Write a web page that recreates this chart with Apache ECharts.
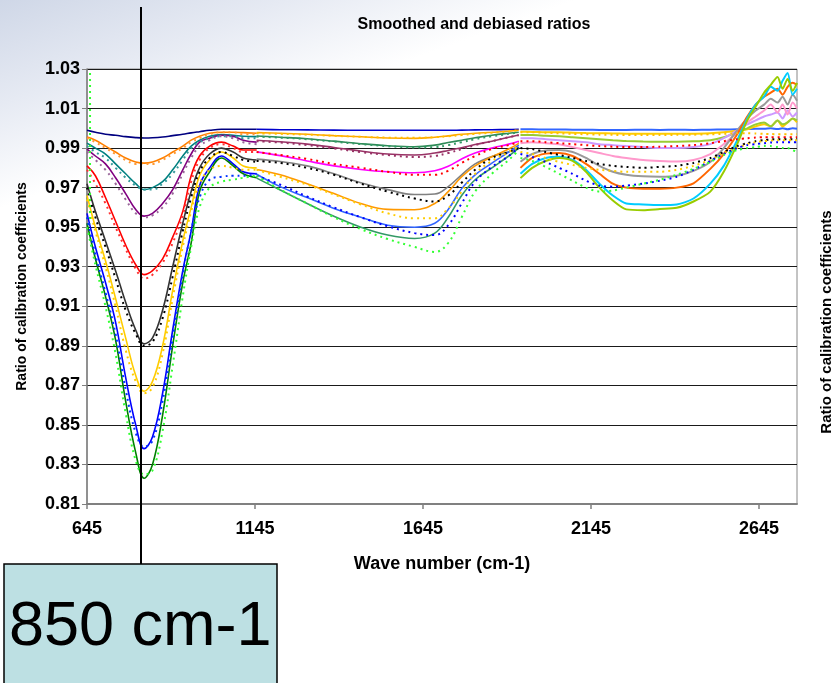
<!DOCTYPE html>
<html>
<head>
<meta charset="utf-8">
<script src="https://cdn.jsdelivr.net/npm/echarts@6/dist/echarts.min.js"></script>
<style>
    html, body { margin: 0; padding: 0; background: #fff; }
    #chart { width: 833px; height: 683px; }
</style>
</head>
<body>
<div id="chart"></div>
<script>
    // wave numbers, segment 1 (645-1150)
    const xsA1 = [645, 670, 700, 730, 760, 790, 815, 840, 870, 900, 930, 955, 980, 1010, 1045, 1080, 1110, 1150];
    // segment 2 (1150-1930)
    const xsA2 = [1150, 1220, 1300, 1380, 1460, 1540, 1620, 1680, 1720, 1760, 1800, 1850, 1900, 1930];
    // segment 3 (1935-2758)
    const xsB = [1935, 1970, 2010, 2050, 2090, 2130, 2170, 2210, 2250, 2300, 2350, 2400, 2450, 2500, 2540,
        2580, 2610, 2635, 2660, 2680, 2700, 2715, 2730, 2745, 2758];

    const yTicks = [0.81, 0.83, 0.85, 0.87, 0.89, 0.91, 0.93, 0.95, 0.97, 0.99, 1.01, 1.03];
    const xTicks = [645, 1145, 1645, 2145, 2645];

    // segment 1, smoothed
    const navyA1 = [.999, .998, .997, .9965, .9958, .9953, .9951, .9952, .9956, .9963, .997, .9977, .9983, .999, .9995, .9995, .9995, .9995];
    const orangeA1 = [.9956, .994, .991, .988, .985, .983, .9824, .983, .985, .988, .991, .994, .996, .9975, .998, .998, .9978, .9975];
    const tealA1 = [.9925, .990, .987, .982, .977, .972, .969, .970, .973, .979, .986, .991, .994, .996, .9968, .9965, .996, .9958];
    const purpleA1 = [.9895, .986, .982, .975, .967, .959, .9556, .957, .962, .969, .979, .987, .993, .995, .9965, .996, .994, .993];
    const redA1 = [.981, .976, .965, .953, .941, .931, .926, .928, .934, .945, .958, .976, .986, .991, .993, .991, .989, .989];
    const blackA1 = [.972, .958, .943, .928, .912, .898, .891, .894, .908, .930, .952, .968, .980, .987, .990, .988, .985, .984];
    const yellowA1 = [.966, .950, .933, .914, .894, .875, .867, .872, .890, .918, .943, .960, .976, .984, .988, .985, .981, .980];
    const blueA1 = [.957, .940, .922, .902, .874, .850, .838, .844, .866, .898, .928, .948, .971, .980, .986, .982, .978, .977];
    const greenA1 = [.952, .934, .915, .893, .862, .836, .823, .830, .855, .890, .922, .942, .968, .978, .985, .981, .977, .975];

    // segment 1, debiased (dotted)
    const orangeA1d = [.995, .993, .990, .987, .984, .982, .982, .982, .984, .987, .990, .993, .995, .997, .998, .998, .997, .997];
    const tealA1d = [.991, .988, .985, .980, .975, .971, .969, .969, .972, .977, .984, .990, .993, .995, .996, .996, .995, .995];
    const purpleA1d = [.988, .984, .979, .972, .964, .957, .955, .956, .960, .967, .977, .985, .991, .994, .996, .995, .993, .992];
    const redA1d = [.979, .972, .962, .950, .939, .929, .924, .926, .932, .942, .956, .973, .984, .990, .992, .990, .988, .988];
    const blackA1d = [.970, .955, .940, .924, .908, .896, .890, .892, .904, .925, .948, .965, .978, .985, .988, .986, .984, .983];
    const yellowA1d = [.964, .948, .930, .910, .888, .872, .866, .869, .886, .914, .940, .958, .972, .979, .981, .980, .979, .979];
    const blueA1d = [.955, .936, .917, .896, .868, .846, .839, .842, .862, .894, .926, .948, .965, .974, .9755, .976, .976, .977];
    const greenA1d = [.950, .931, .910, .886, .856, .832, .825, .827, .847, .880, .915, .940, .960, .970, .973, .974, .975, .976];
    const spikeX = [654, 654];
    const spikeY = [1.028, .952];

    // segment 2, smoothed
    const navyA2 = [.9995, .9993, .9992, .9991, .999, .999, .999, .999, .999, .9991, .9992, .9993, .9994, .9995];
    const goldA2 = [.9978, .9975, .997, .9963, .9957, .9951, .9949, .9955, .9962, .997, .9975, .998, .9985, .999];
    const seaA2 = [.9961, .9955, .9947, .9935, .9922, .9912, .9907, .9915, .9928, .994, .9952, .9965, .9975, .998];
    const maroonA2 = [.994, .9932, .992, .9903, .9885, .987, .9865, .9875, .9888, .9902, .9918, .9935, .9955, .9966];
    const magentaA2 = [.9881, .9862, .9835, .981, .9792, .978, .9775, .9785, .9808, .9845, .9875, .990, .992, .9935];
    const greyA2 = [.9844, .9832, .981, .977, .9725, .969, .9665, .9668, .9705, .9765, .982, .9858, .9882, .990];
    const orangeA2 = [.9792, .9765, .972, .967, .962, .959, .9588, .962, .968, .9755, .981, .9856, .9895, .9924];
    const royalA2 = [.9768, .9705, .965, .9595, .955, .951, .950, .952, .959, .9695, .9765, .9824, .988, .9915];
    const greenA2 = [.9748, .9688, .962, .9555, .950, .946, .9443, .947, .955, .966, .974, .980, .986, .990];

    // segment 2, debiased
    const goldA2d = [.9975, .9972, .9968, .9962, .9957, .9953, .9952, .9955, .996, .9966, .9972, .9978, .9984, .999];
    const seaA2d = [.9958, .9953, .9945, .9933, .992, .991, .9903, .9905, .9915, .993, .9945, .996, .9972, .998];
    const maroonA2d = [.9935, .9928, .9915, .9898, .988, .9865, .9855, .986, .9875, .9895, .9915, .9935, .9955, .9965];
    const redA2d = [.988, .9865, .9845, .982, .980, .978, .9765, .9765, .9785, .9825, .986, .9895, .9915, .993];
    const blackA2d = [.9835, .9825, .980, .9765, .972, .968, .9645, .963, .966, .9725, .979, .985, .988, .990];
    const yellowA2d = [.979, .9755, .9715, .9665, .9615, .957, .9545, .9545, .9595, .968, .977, .9835, .988, .991];
    const blueA2d = [.976, .9715, .9655, .960, .955, .9505, .947, .946, .951, .962, .973, .9805, .986, .9905];
    const greenA2d = [.976, .969, .962, .955, .949, .944, .940, .9375, .942, .955, .968, .977, .984, .989];

    // segment 3, smoothed
    const blueB = [.9995, .9995, .9994, .9994, .9993, .9993, .9992, .9992, .9992, .9993, .9992, .9993, .9992, .9993, .9994,
        .9995, .9996, .9998, .9998, 1.0, .9996, 1.0, .9995, 1.0, .9998];
    const yellowB = [.9983, .9982, .998, .998, .9978, .9976, .9975, .9974, .9973, .9972, .9972, .9972, .9973, .9975, .998,
        .9988, .9995, 1.001, 1.002, 1.001, 1.004, 1.001, 1.003, 1.005, 1.003];
    const limeB = [.9966, .9966, .9962, .996, .9955, .995, .9945, .994, .9936, .9933, .9932, .9932, .9934, .994, .9955,
        .998, 1.0, 1.002, 1.003, 1.001, 1.004, 1.002, 1.003, 1.005, 1.004];
    const lavenderB = [.995, .995, .9945, .994, .9935, .993, .992, .9915, .991, .9905, .990, .990, .9905, .992, .995,
        .999, 1.002, 1.004, 1.006, 1.007, 1.008, 1.005, 1.009, 1.006, 1.008];
    const pinkB = [.9925, .993, .9925, .992, .9905, .989, .9875, .986, .985, .984, .9835, .9832, .984, .987, .992,
        .998, 1.003, 1.006, 1.009, 1.012, 1.008, 1.012, 1.007, 1.013, 1.010];
    const greyB = [.9831, .987, .9888, .989, .988, .985, .981, .978, .9765, .9757, .9755, .976, .9785, .983, .990,
        .999, 1.005, 1.009, 1.012, 1.015, 1.013, 1.016, 1.012, 1.017, 1.014];
    const orangeB = [.980, .985, .9872, .9875, .986, .982, .977, .972, .970, .9695, .9695, .970, .9722, .9795, .987,
        .997, 1.006, 1.012, 1.016, 1.018, 1.020, 1.017, 1.021, 1.023, 1.022];
    const cyanB = [.977, .982, .985, .9856, .984, .979, .972, .966, .962, .9615, .9612, .9615, .9645, .972, .981,
        .994, 1.005, 1.012, 1.016, 1.021, 1.019, 1.024, 1.028, 1.017, 1.020];
    const olivB = [.9748, .980, .9835, .985, .9835, .978, .970, .9635, .959, .9586, .9592, .9598, .963, .968, .978,
        .992, 1.004, 1.011, 1.018, 1.022, 1.026, 1.020, 1.025, 1.019, 1.023];

    // segment 3, debiased
    const goldBd = [.998, .998, .9978, .9975, .9972, .997, .9968, .9967, .9966, .9966, .9966, .9967, .9968, .997, .9972,
        .9975, .9975, .9974, .9972, .9971, .997, .997, .997, .997, .997];
    const redBd = [.9935, .9935, .993, .9925, .992, .9915, .991, .9907, .9905, .9905, .9907, .991, .9915, .9925, .9935,
        .9945, .995, .9953, .9955, .9955, .9955, .9955, .9955, .9955, .9955];
    const blackBd = [.990, .9895, .988, .9865, .985, .9835, .982, .981, .9805, .980, .9805, .981, .9825, .985, .988,
        .991, .9925, .9935, .994, .9943, .9945, .9945, .9945, .9945, .9945];
    const yellowBd = [.988, .987, .985, .983, .9815, .980, .979, .9785, .978, .978, .978, .979, .981, .984, .9875,
        .990, .992, .993, .9935, .9938, .994, .994, .994, .994, .994];
    const blueBd = [.987, .9855, .983, .980, .977, .9735, .971, .9705, .971, .972, .9735, .9755, .979, .9835, .987,
        .990, .9915, .992, .9925, .9928, .993, .993, .993, .993, .993];
    const greenBd = [.985, .9835, .9805, .977, .9735, .970, .968, .9685, .970, .972, .974, .9765, .9795, .983, .9865,
        .989, .990, .9905, .991, .991, .9905, .990, .990, .989, .988];

    const lines = [
        [xsA1, navyA1, '#000080', false], [xsA1, orangeA1, '#ff8000', false], [xsA1, tealA1, '#008080', false],
        [xsA1, purpleA1, '#800080', false], [xsA1, redA1, '#ff0000', false], [xsA1, blackA1, '#333333', false],
        [xsA1, yellowA1, '#ffcc00', false], [xsA1, blueA1, '#0000ff', false], [xsA1, greenA1, '#008000', false],
        [xsA1, orangeA1d, '#ff9933', true], [xsA1, tealA1d, '#339999', true], [xsA1, purpleA1d, '#996699', true],
        [xsA1, redA1d, '#ff3333', true], [xsA1, blackA1d, '#000000', true], [xsA1, yellowA1d, '#ffcc00', true],
        [xsA1, blueA1d, '#0033ff', true], [xsA1, greenA1d, '#33ff33', true], [spikeX, spikeY, '#33ff33', true],
        [xsA2, navyA2, '#0000cc', false], [xsA2, goldA2, '#ffa500', false], [xsA2, seaA2, '#2e8b57', false],
        [xsA2, maroonA2, '#993366', false], [xsA2, magentaA2, '#ff00ff', false], [xsA2, greyA2, '#808080', false],
        [xsA2, orangeA2, '#ff9900', false], [xsA2, royalA2, '#3366ff', false], [xsA2, greenA2, '#339966', false],
        [xsA2, goldA2d, '#ffc000', true], [xsA2, seaA2d, '#339966', true], [xsA2, maroonA2d, '#993366', true],
        [xsA2, redA2d, '#ff0000', true], [xsA2, blackA2d, '#000000', true], [xsA2, yellowA2d, '#ffcc00', true],
        [xsA2, blueA2d, '#0000ff', true], [xsA2, greenA2d, '#33ff33', true],
        [xsB, blueB, '#3366ff', false], [xsB, yellowB, '#ffcc00', false], [xsB, limeB, '#99cc33', false],
        [xsB, lavenderB, '#cc99ff', false], [xsB, pinkB, '#ff99cc', false], [xsB, greyB, '#999999', false],
        [xsB, orangeB, '#ff6600', false], [xsB, cyanB, '#00ccff', false], [xsB, olivB, '#99cc00', false],
        [xsB, goldBd, '#ffc000', true], [xsB, redBd, '#ff0000', true], [xsB, blackBd, '#000000', true],
        [xsB, yellowBd, '#ffcc00', true], [xsB, blueBd, '#0000ff', true], [xsB, greenBd, '#33ff33', true]
    ];

    const font = 'Liberation Sans, Arial, sans-serif';

    const series = lines.map(function (l, i) {
        return {
            type: 'line',
            name: 's' + i,
            data: l[0].map(function (x, j) { return [x, l[1][j]]; }),
            smooth: l[0] === spikeX ? false : (l[0] === xsB ? 0.25 : 0.4),
            showSymbol: false,
            silent: true,
            lineStyle: {
                color: l[2],
                width: l[3] ? 2 : (l[0] === xsB ? 2 : 1.6),
                type: l[3] ? [2, 4] : 'solid'
            },
            z: l[3] ? 3 : 2
        };
    });

    const option = {
        animation: false,
        backgroundColor: {
            type: 'linear', x: 0, y: 0, x2: 0.08, y2: 0.27,
            colorStops: [
                { offset: 0, color: '#cfd7e7' },
                { offset: 0.5, color: '#e6eaf3' },
                { offset: 1, color: '#ffffff' }
            ]
        },
        title: {
            text: 'Smoothed and debiased ratios',
            left: 469,
            top: 12,
            textAlign: 'center',
            textStyle: { fontFamily: font, fontSize: 16, fontWeight: 'bold', color: '#000' }
        },
        grid: {
            left: 87, right: 36, top: 69, bottom: 179,
            show: true, backgroundColor: '#ffffff', borderColor: '#888888', borderWidth: 1
        },
        xAxis: {
            type: 'value',
            min: xTicks[0],
            max: 2758,
            interval: 500,
            name: 'Wave number (cm-1)',
            nameLocation: 'middle',
            nameGap: 51,
            nameTextStyle: { fontFamily: font, fontSize: 18, fontWeight: 'bold', color: '#000' },
            axisLine: { onZero: false, lineStyle: { color: '#808080', width: 2 } },
            axisTick: { show: true, length: 5, lineStyle: { color: '#808080', width: 1.5 } },
            axisLabel: {
                margin: 16, showMaxLabel: false,
                fontFamily: font, fontSize: 18, fontWeight: 'bold', color: '#000',
                formatter: function (v) { return xTicks.indexOf(v) >= 0 ? String(v) : ''; }
            },
            splitLine: { show: false }
        },
        yAxis: {
            type: 'value',
            min: yTicks[0],
            max: yTicks[yTicks.length - 1],
            interval: 0.02,
            name: 'Ratio of calibration coefficients',
            nameLocation: 'middle',
            nameRotate: 90,
            nameGap: 58,
            nameTextStyle: { fontFamily: font, fontSize: 14, fontWeight: 'bold', color: '#000' },
            axisLine: { show: true, lineStyle: { color: '#808080', width: 1.5 } },
            axisTick: { show: true, length: 5, lineStyle: { color: '#808080' } },
            axisLabel: {
                margin: 7, fontFamily: font, fontSize: 18, fontWeight: 'bold', color: '#000',
                formatter: function (v) { return v.toFixed(2); }
            },
            splitLine: { show: true, lineStyle: { color: '#1a1a1a', width: 1 } }
        },
        graphic: [
            {
                type: 'text', x: 827, y: 322, rotation: Math.PI / 2,
                style: {
                    text: 'Ratio of calibration coefficients', fontFamily: font, fontSize: 15,
                    fontWeight: 'bold', fill: '#000', textAlign: 'center', textVerticalAlign: 'middle'
                }
            },
            {
                type: 'line', z: 100,
                shape: { x1: 141, y1: 7, x2: 141, y2: 564 },
                style: { stroke: '#000', lineWidth: 2 }
            },
            {
                type: 'rect', z: 100,
                shape: { x: 4, y: 564, width: 273, height: 130 },
                style: { fill: '#bde0e3', stroke: '#000', lineWidth: 1.5 }
            },
            {
                type: 'text', z: 101, x: 9, y: 628,
                style: {
                    text: '850 cm-1', fontFamily: font, fontSize: 63, fill: '#000',
                    textAlign: 'left', textVerticalAlign: 'middle'
                }
            }
        ],
        series: series
    };

    const chart = echarts.init(document.getElementById('chart'));
    chart.setOption(option);

    window.addEventListener('resize', function () {
        chart.resize();
    });
</script>
</body>
</html>
